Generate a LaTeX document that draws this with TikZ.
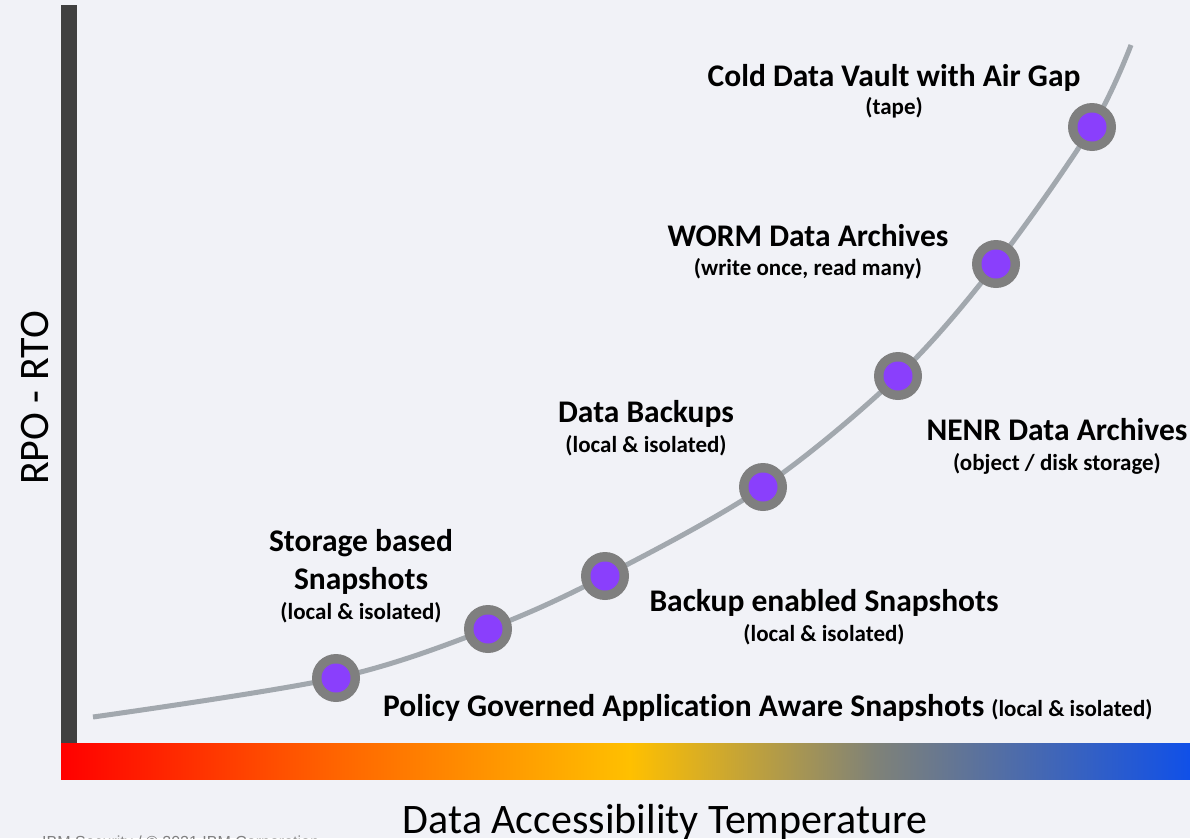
\documentclass[tikz,border=0pt]{standalone}
\usepackage{fontspec}
\setmainfont[Ligatures=NoCommon]{Carlito}
\newfontfamily\footfont{Liberation Sans}
\definecolor{bgc}{HTML}{F1F2F7}
\definecolor{axisbar}{HTML}{404040}
\definecolor{curvec}{HTML}{A2A8AE}
\definecolor{ringc}{HTML}{7F7F7F}
\definecolor{dotc}{HTML}{8A3FFC}
\definecolor{gRed}{HTML}{FF0000}
\definecolor{gOrange}{HTML}{FF6600}
\definecolor{gGold}{HTML}{FFC000}
\definecolor{gGray}{HTML}{7F8278}
\definecolor{gBlue}{HTML}{1050E8}
\tikzset{
  marker/.style={circle, fill=ringc, inner sep=0pt, minimum size=48pt,
    path picture={\fill[dotc] (path picture bounding box.center) circle (14.5pt);}},
  headline/.style={anchor=base, inner sep=0pt, font=\fontsize{31.5}{36}\selectfont\bfseries},
  subline/.style={anchor=base, inner sep=0pt, font=\fontsize{23}{27}\selectfont\bfseries},
  axislabel/.style={inner sep=0pt, font=\fontsize{42}{48}\selectfont},
}
\begin{document}
\begin{tikzpicture}[x=1pt, y=-1pt]
  \useasboundingbox[fill=bgc] (0,0) rectangle (1190,838);

  % vertical axis bar
  \fill[axisbar] (61,5) rectangle (77,780);

  % temperature gradient bar
  \shade[left color=gRed, right color=gOrange] (61,743) rectangle (340.5,779);
  \shade[left color=gOrange, right color=gGold] (340,743) rectangle (630.5,779);
  \shade[left color=gGold, right color=gGray] (630,743) rectangle (875.5,779);
  \shade[left color=gGray, right color=gBlue] (875,743) rectangle (1190,779);

  % curve end points and markers
  \coordinate (cstart) at (93,717);
  \coordinate (cend) at (1131,45);
  \coordinate (m1) at (336,678);
  \coordinate (m2) at (488,629);
  \coordinate (m3) at (605,576);
  \coordinate (m4) at (763,487);
  \coordinate (m5) at (898,376);
  \coordinate (m6) at (996,264);
  \coordinate (m7) at (1092,127);

  \draw[curvec, line width=5pt] plot[smooth, tension=0.55] coordinates
    {(cstart) (m1) (m2) (m3) (m4) (m5) (m6) (m7) (cend)};

  % markers on top of the curve
  \foreach \p in {m1,m2,m3,m4,m5,m6,m7}
    \node[marker] (dot-\p) at (\p) {};

  % labels
  \node[headline] (t7) at (894,86) {Cold Data Vault with Air Gap};
  \node[subline]  (s7) at (894,114) {(tape)};
  \node[headline] (t6) at (808,246) {WORM Data Archives};
  \node[subline]  (s6) at (808,275) {(write once, read many)};
  \node[headline] (t5) at (1057,440) {NENR Data Archives};
  \node[subline]  (s5) at (1057,470) {(object / disk storage)};
  \node[headline] (t4) at (646,422) {Data Backups};
  \node[subline]  (s4) at (646,452) {(local \& isolated)};
  \node[headline] (t2a) at (361,551) {Storage based};
  \node[headline] (t2b) at (361,589) {Snapshots};
  \node[subline]  (s2) at (361,619) {(local \& isolated)};
  \node[headline] (t3) at (824,611) {Backup enabled Snapshots};
  \node[subline]  (s3) at (824,641) {(local \& isolated)};
  \node[headline, anchor=base west] (t1) at (383,716)
    {Policy Governed Application Aware Snapshots {\fontsize{23}{27}\selectfont(local \& isolated)}};

  % axis titles
  \node[axislabel, rotate=90] (ylab) at (35,398) {RPO - RTO};
  \node[axislabel, anchor=base] (xlab) at (665,833) {Data Accessibility Temperature};

  % footer
  \node[anchor=base west, inner sep=0pt, text=gray, font=\footfont\fontsize{16}{18}\selectfont]
    (foot) at (42,847) {IBM Security / © 2021 IBM Corporation};
\end{tikzpicture}
\end{document}
